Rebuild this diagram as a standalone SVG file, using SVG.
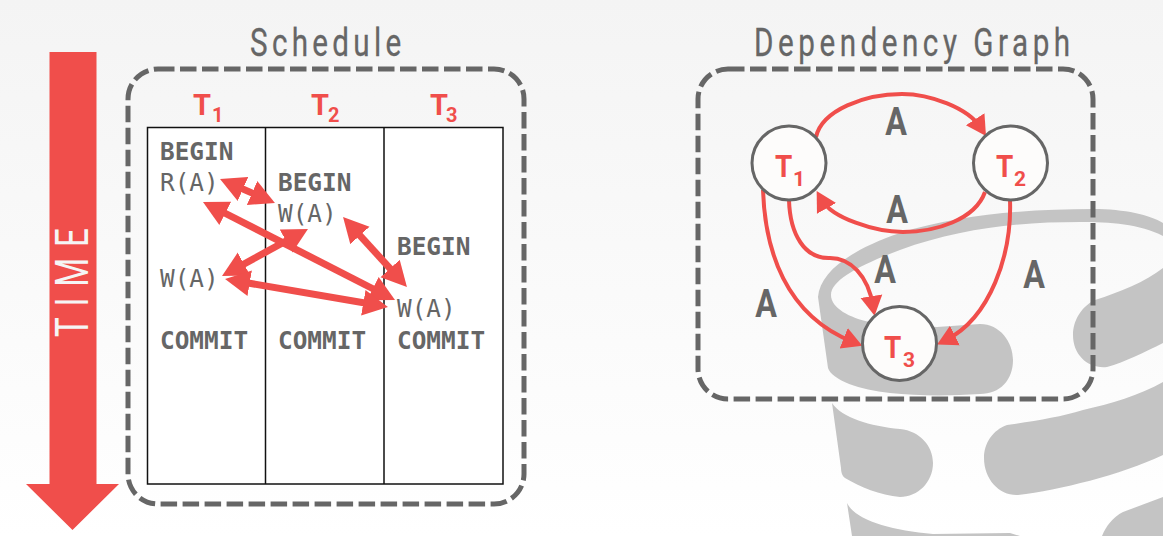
<svg xmlns="http://www.w3.org/2000/svg" width="1163" height="536" viewBox="0 0 1163 536">
<style>
.dash{fill:none;stroke:#666;stroke-width:5;stroke-dasharray:16.5 5.5}
.title{font-family:Roboto,"Liberation Sans",sans-serif;font-size:39px;fill:#666;stroke:#666;stroke-width:.3}
.mono{font-family:"DejaVu Sans Mono",monospace;font-size:24.4px;fill:#666}
.b{font-weight:700}
.t{font-family:Roboto,"Liberation Sans",sans-serif;font-weight:700;font-size:29px;fill:#f04e4b}
.s{font-family:Roboto,"Liberation Sans",sans-serif;font-weight:700;font-size:20px;fill:#f04e4b}
.n{font-size:31px}
.ns{font-size:21px}
.a{font-family:Roboto,"Liberation Sans",sans-serif;font-weight:700;font-size:38px;fill:#666;text-anchor:middle}
.thick{fill:none;stroke:#f04e4b;stroke-width:7;marker-start:url(#big);marker-end:url(#big)}
.edge{fill:none;stroke:#f04e4b;stroke-width:4;marker-end:url(#small)}
.node{fill:#fdfcfb;stroke:#666;stroke-width:3}
.db{fill:#c4c4c4}
</style>
<defs>
<linearGradient id="bg" x1="0" y1="0" x2="0" y2="1"><stop offset="0" stop-color="#f4f4f4"/><stop offset="1" stop-color="#fff"/></linearGradient>
<marker id="big" markerUnits="userSpaceOnUse" markerWidth="26" markerHeight="28" refX="15" refY="14" orient="auto-start-reverse"><path d="M0,1L25,14L0,27z" fill="#f04e4b"/></marker>
<marker id="small" markerUnits="userSpaceOnUse" markerWidth="22" markerHeight="24" refX="10" refY="12" orient="auto"><path d="M0,1L20,12L0,23z" fill="#f04e4b"/></marker>
</defs>
<rect width="1163" height="536" fill="url(#bg)"/>
<g id="database">
<path class="db" d="M818,297C820,272 850,250 900,233C960,214 1030,209 1093,209C1125,209 1150,215 1163,223V236C1140,224 1110,222 1080,222C1020,222 960,228 900,250C860,265 831,280 831,295C831,308 850,318 870,322L937,327L980,324C1000,324 1013,342 1013,360C1013,380 1000,394 980,394C950,396 917,396 890,393C860,390 832,380 828,368z"/>
<path class="db" d="M1163,268C1145,282 1120,292 1095,300C1082,306 1073,320 1073,335C1073,355 1088,369 1107,367C1125,362 1145,352 1163,343z"/>
<path class="db" d="M832,403C842,418 870,426 900,429C920,431 933,446 933,463C933,482 918,497 900,497C880,495 860,487 845,478C842,476 841,472 841,468z"/>
<path class="db" d="M1163,382C1140,395 1110,404 1083,410C1060,417 1035,421 1007,425C993,430 984,443 984,458C984,480 1000,496 1018,495C1060,490 1120,475 1163,455z"/>
<path class="db" d="M847,503C855,520 890,530 933,534L1010,533L1020,536H852z"/>
<path class="db" d="M1163,497L1123,512C1113,517 1106,526 1102,536H1163z"/>
</g>
<g id="time-arrow">
<path d="M49.500,52H96.500V484H119L72.500,530L26,484H49.500z" fill="#f04e4b"/>
<text transform="translate(88,337) rotate(-90) scale(.72,1)" font-family="Roboto,'Liberation Sans',sans-serif" font-size="46" fill="#f5f5f5" textLength="151" lengthAdjust="spacing">TIME</text>
</g>
<g id="schedule">
<text class="title" transform="translate(250,56) scale(.76,1)" textLength="199" lengthAdjust="spacing">Schedule</text>
<rect class="dash" x="128" y="69" width="396" height="435" rx="30"/>
<rect x="147.500" y="127.500" width="355.500" height="356.500" fill="#fff" stroke="#111" stroke-width="1.500"/>
<path d="M265.500,127V484M384,127V484" fill="none" stroke="#111" stroke-width="1.500"/>
<text class="t" x="193" y="115">T</text><text class="s" x="212" y="122">1</text>
<text class="t" x="311" y="115">T</text><text class="s" x="328" y="122">2</text>
<text class="t" x="430" y="115">T</text><text class="s" x="446" y="122">3</text>
<text class="mono b" x="160" y="160">BEGIN</text>
<text class="mono" x="160" y="191">R(A)</text>
<text class="mono" x="160" y="287">W(A)</text>
<text class="mono b" x="160" y="349">COMMIT</text>
<text class="mono b" x="278" y="191">BEGIN</text>
<text class="mono" x="278" y="222">W(A)</text>
<text class="mono b" x="278" y="349">COMMIT</text>
<text class="mono b" x="397" y="255">BEGIN</text>
<text class="mono" x="397" y="317">W(A)</text>
<text class="mono b" x="397" y="349">COMMIT</text>
</g>
<g id="schedule-arrows">
<line class="thick" x1="229.200" y1="183" x2="265.800" y2="199"/>
<line class="thick" x1="211.900" y1="206.500" x2="386.100" y2="295.500"/>
<line class="thick" x1="299.200" y1="233.800" x2="230.800" y2="271.200"/>
<line class="thick" x1="349.800" y1="224.400" x2="400.200" y2="279.600"/>
<line class="thick" x1="234.900" y1="280.700" x2="378.100" y2="305.300"/>
</g>
<g id="graph-frame">
<text class="title" transform="translate(754,56) scale(.76,1)" textLength="416" lengthAdjust="spacing">Dependency Graph</text>
<rect class="dash" x="698" y="69" width="395" height="330" rx="30"/>
</g>
<g id="connectors">
<path class="edge" d="M816,137C822,110 865,94 902,94C930,94 968,108 980.600,127.600"/>
<path class="edge" d="M985,192C975,220 935,232 903,232C875,232 832,218 821.600,199.700"/>
<path class="edge" d="M763,190C765,250 785,315 853,342"/>
<path class="edge" d="M789,200C790,235 805,259 830,258C850,258 868,275 873,306"/>
<path class="edge" d="M1010,200C1012,255 990,318 946,340"/>
</g>
<g id="edge-labels">
<text class="a" transform="translate(896,135) scale(.85,1)">A</text>
<text class="a" transform="translate(897,223) scale(.85,1)">A</text>
<text class="a" transform="translate(885,283) scale(.85,1)">A</text>
<text class="a" transform="translate(1034,288) scale(.85,1)">A</text>
<text class="a" transform="translate(766,317) scale(.85,1)">A</text>
</g>
<g id="T1"><circle class="node" cx="789" cy="163" r="37"/><text class="t n" transform="translate(775,177) scale(.9,1)">T</text><text class="s ns" x="793" y="186">1</text></g>
<g id="T2"><circle class="node" cx="1010.500" cy="163" r="37"/><text class="t n" transform="translate(996,177) scale(.9,1)">T</text><text class="s ns" x="1014" y="186">2</text></g>
<g id="T3"><circle class="node" cx="899.500" cy="343.500" r="37"/><text class="t n" transform="translate(884,358) scale(.9,1)">T</text><text class="s ns" x="903" y="367">3</text></g>
</svg>
